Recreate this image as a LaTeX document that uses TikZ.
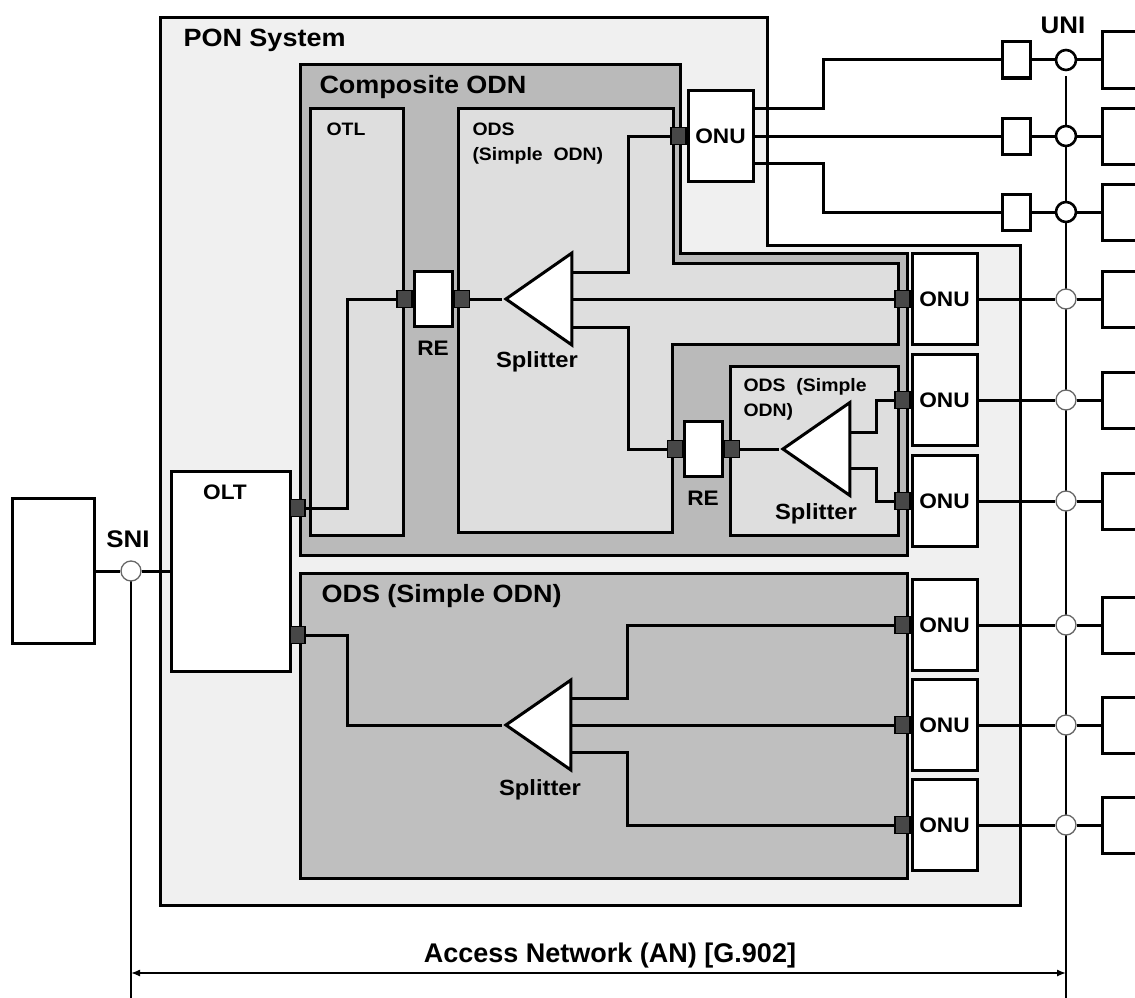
\documentclass[tikz,border=0pt]{standalone}
\usepackage{fontspec}
\setmainfont[FakeStretch=1.08]{Liberation Sans}
\newfontfamily\anfont{Liberation Sans}
\usetikzlibrary{arrows.meta,positioning,shapes.geometric}

\begin{document}
\begin{tikzpicture}[
    x=1pt,y=-1pt,
    line width=3pt,
    >=Latex,
    box/.style={rectangle,draw,fill=white,inner sep=0pt},
    onu/.style={box,minimum width=65,minimum height=91,font=\fontsize{21}{24}\selectfont\bfseries},
    port/.style={rectangle,draw,fill=black!72,line width=1.2pt,minimum width=15,minimum height=17,inner sep=0pt},
    rebox/.style={box,minimum width=38,minimum height=55},
    splitter/.style={isosceles triangle,isosceles triangle stretches,shape border rotate=180,
                     draw,fill=white,inner sep=0pt,anchor=apex,minimum width=92,minimum height=66},
    stub/.style={box,minimum width=28,minimum height=36},
    cpe/.style={box,minimum width=70,minimum height=56},
    unia/.style={circle,draw,fill=white,inner sep=0pt,minimum size=20,line width=2.6pt},
    unib/.style={circle,draw=black!60,fill=white,inner sep=0pt,minimum size=20,line width=1.3pt},
    title/.style={inner sep=0pt,anchor=base west,font=\fontsize{25}{28}\selectfont\bfseries},
    tag/.style={inner sep=0pt,anchor=base,font=\fontsize{21}{24}\selectfont\bfseries},
    sublab/.style={inner sep=0pt,anchor=north west,align=left,font=\fontsize{18}{25}\selectfont\bfseries},
    hair/.style={line width=1.4pt}
  ]
    \useasboundingbox (0,0) rectangle (1135,998);
    \clip (0,0) rectangle (1135,998);

    % areas
    \draw[fill=black!6] (160,18) -- (767,18) -- (767,245) -- (1020,245) -- (1020,905) -- (160,905) -- cycle;
    \draw[fill=black!27] (300,65) -- (680,65) -- (680,253) -- (907,253) -- (907,555) -- (300,555) -- cycle;
    \draw[fill=black!13] (310,108) rectangle (403,535);
    \draw[fill=black!13] (458,108) -- (673,108) -- (673,263) -- (898,263) -- (898,344)
                         -- (672,344) -- (672,532) -- (458,532) -- cycle;
    \draw[fill=black!13] (730,366) rectangle (898,535);
    \draw[fill=black!25] (300,573) rectangle (907,878);

    \node[title] (ponlab) at (182,47) {PON System};
    \node[title] (cmplab) at (318,93) {Composite ODN};
    \node[title] (odslab) at (320,602) {ODS (Simple ODN)};
    \node[sublab] (otllab) at (325,121) {OTL};
    \node[sublab] (ods1lab) at (471,121) {ODS\\(Simple\ \ ODN)};
    \node[sublab] (ods2lab) at (742,377) {ODS\ \ (Simple\\ODN)};

    % reference lines
    \coordinate (snitop) at (131,571);
    \coordinate (snibot) at (131,998);
    \coordinate (unitop) at (1066,76);
    \coordinate (unibot) at (1066,998);
    \coordinate (anl) at (131,973);
    \coordinate (anr) at (1066,973);
    \draw[hair] (snitop) -- (snibot);
    \draw[hair] (unitop) -- (unibot);
    \draw[hair,<->,>={Latex[length=9pt,width=7pt]}] (anl) -- (anr);
    \node[inner sep=0pt,anchor=base,font=\anfont\fontsize{27}{30}\selectfont\bfseries] (anlab) at (610,962)
        {Access Network (AN) [G.902]};

    % SNI side
    \node[box,minimum width=82,minimum height=145] (ext) at (53,571) {};
    \node[unib] (sni) at (131,571) {};
    \node[tag,font=\fontsize{24}{26}\selectfont\bfseries] (snilab) at (128,547) {SNI};
    \node[box,minimum width=119,minimum height=200] (olt) at (230.5,571) {};
    \node[tag] (oltlab) at (225,499) {OLT};
    \node[port] (olt1) at (297.5,508) {};
    \node[port] (olt2) at (297.5,635) {};

    % reach extenders and splitters
    \node[rebox] (re1) at (433,299) {};
    \node[port,left=0pt of re1] (re1a) {};
    \node[port,right=0pt of re1] (re1b) {};
    \node[tag] (re1lab) at (433,355) {RE};
    \node[splitter] (sp1) at (502,299) {};
    \node[tag,font=\fontsize{22}{24}\selectfont\bfseries] (sp1lab) at (537,367) {Splitter};

    \node[rebox] (re2) at (703.5,449) {};
    \node[port,left=0pt of re2] (re2a) {};
    \node[port,right=0pt of re2] (re2b) {};
    \node[tag] (re2lab) at (703,505) {RE};
    \node[splitter,minimum width=93,minimum height=67] (sp2) at (779,449) {};
    \node[tag,font=\fontsize{22}{24}\selectfont\bfseries] (sp2lab) at (816,519) {Splitter};

    \node[splitter,minimum width=90,minimum height=65] (sp3) at (502,725) {};
    \node[tag,font=\fontsize{22}{24}\selectfont\bfseries] (sp3lab) at (540,795) {Splitter};

    % ONUs
    \node[onu] (onu0) at (720.5,136) {ONU};
    \node[port,left=0pt of onu0] (p0) {};
    \node[onu] (onu1) at (944.5,299) {ONU};
    \node[onu] (onu2) at (944.5,400) {ONU};
    \node[onu] (onu3) at (944.5,501) {ONU};
    \node[onu] (onu4) at (944.5,625) {ONU};
    \node[onu] (onu5) at (944.5,725) {ONU};
    \node[onu] (onu6) at (944.5,825) {ONU};
    \node[port,left=0pt of onu1] (p1) {};
    \node[port,left=0pt of onu2] (p2) {};
    \node[port,left=0pt of onu3] (p3) {};
    \node[port,left=0pt of onu4] (p4) {};
    \node[port,left=0pt of onu5] (p5) {};
    \node[port,left=0pt of onu6] (p6) {};

    % UNI side
    \node[stub] (stub1) at (1016,60) {};
    \node[stub] (stub2) at (1016,136) {};
    \node[stub] (stub3) at (1016,212) {};
    \node[unia] (uni1) at (1066,60) {};
    \node[unia] (uni2) at (1066,136) {};
    \node[unia] (uni3) at (1066,212) {};
    \node[unib] (uni4) at (1066,299) {};
    \node[unib] (uni5) at (1066,400) {};
    \node[unib] (uni6) at (1066,501) {};
    \node[unib] (uni7) at (1066,625) {};
    \node[unib] (uni8) at (1066,725) {};
    \node[unib] (uni9) at (1066,825) {};
    \node[tag,font=\fontsize{24}{26}\selectfont\bfseries] (unilab) at (1063,34) {UNI};
    \node[cpe] (cpe1) at (1137,60) {};
    \node[cpe] (cpe2) at (1137,136) {};
    \node[cpe] (cpe3) at (1137,212) {};
    \node[cpe] (cpe4) at (1137,299) {};
    \node[cpe] (cpe5) at (1137,400) {};
    \node[cpe] (cpe6) at (1137,501) {};
    \node[cpe] (cpe7) at (1137,625) {};
    \node[cpe] (cpe8) at (1137,725) {};
    \node[cpe] (cpe9) at (1137,825) {};

    % fibres
    \draw (ext) -- (sni) -- (olt);
    \draw (olt1.east) -- ++(42,0) |- (re1a.west);
    \draw (re1b) -- (sp1.apex);
    \draw ([yshift=27pt]sp1.lower side) -- ++(55,0) |- (p0.west);
    \draw (sp1.lower side) -- (p1.west);
    \draw ([yshift=-28pt]sp1.lower side) -- ++(55,0) |- (re2a.west);
    \draw (re2b) -- (sp2.apex);
    \draw ([yshift=17pt]sp2.lower side) -- ++(25,0) |- (p2.west);
    \draw ([yshift=-19pt]sp2.lower side) -- ++(25,0) |- (p3.west);
    \draw (olt2.east) -- ++(42,0) |- (sp3.apex);
    \draw ([yshift=27pt]sp3.lower side) -- ++(55,0) |- (p4.west);
    \draw (sp3.lower side) -- (p5.west);
    \draw ([yshift=-27pt]sp3.lower side) -- ++(55,0) |- (p6.west);

    % user side
    \draw ([yshift=28pt]onu0.east) -- ++(69,0) |- (stub1.west);
    \draw (onu0.east) -- (stub2.west);
    \draw ([yshift=-27pt]onu0.east) -- ++(69,0) |- (stub3.west);
    \draw (stub1) -- (uni1) -- (cpe1);
    \draw (stub2) -- (uni2) -- (cpe2);
    \draw (stub3) -- (uni3) -- (cpe3);
    \draw (onu1) -- (uni4) -- (cpe4);
    \draw (onu2) -- (uni5) -- (cpe5);
    \draw (onu3) -- (uni6) -- (cpe6);
    \draw (onu4) -- (uni7) -- (cpe7);
    \draw (onu5) -- (uni8) -- (cpe8);
    \draw (onu6) -- (uni9) -- (cpe9);
  \end{tikzpicture}
\end{document}
